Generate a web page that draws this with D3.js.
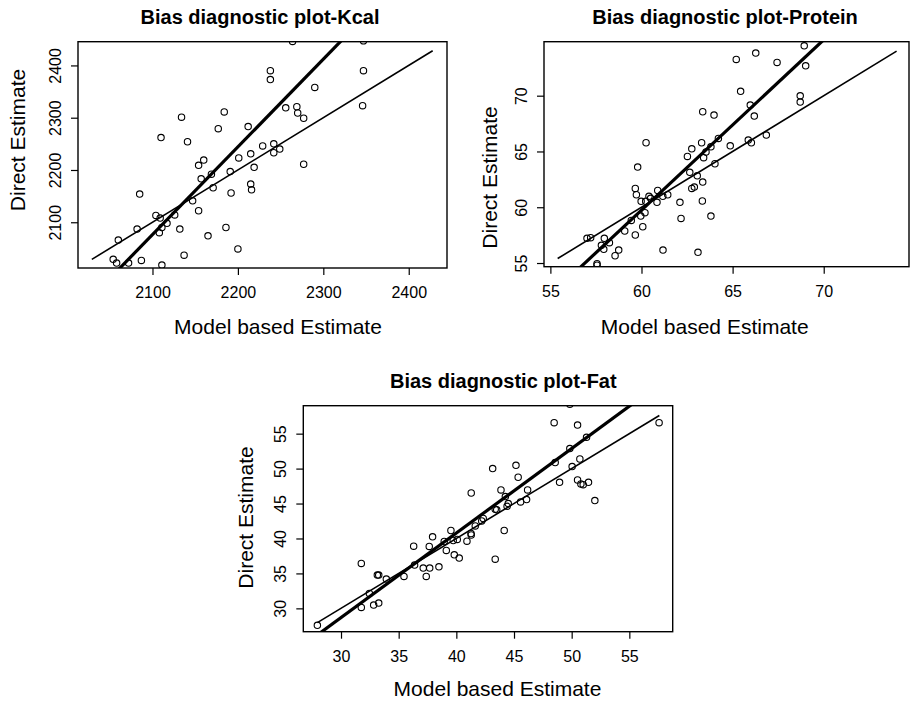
<!DOCTYPE html>
<html>
<head>
<meta charset="utf-8">
<script src="https://cdn.jsdelivr.net/npm/d3@7"></script>
<style>
  html, body { margin: 0; padding: 0; background: #fff; }
  svg { display: block; font-family: "Liberation Sans", Arial, Helvetica, sans-serif; }
</style>
</head>
<body>
<svg id="chart" width="910" height="701"></svg>
<script>
// ---------------- DATA ----------------
const titles = ["Bias diagnostic plot-Kcal", "Bias diagnostic plot-Protein", "Bias diagnostic plot-Fat"];
const xAxisTitle = "Model based Estimate";
const yAxisTitle = "Direct Estimate";

const kcalModel  = [2264,2347,2238,2238,2347,2290,2346,2256,2269,2270,2277,2134,2184,2177,2212,2110,2141,2229,2242,2242,2249,2215,2201,2160,2154,2277,2219,2191,2169,2157,2171,2215,2216,2192,2085,2147,2126,2154,2104,2109,2117,2111,2108,2132,2082,2060,2186,2165,2200,2137,2054,2058,2072,2087,2111];
const kcalDirect = [2446,2447,2390,2373,2390,2358,2323,2319,2321,2309,2299,2301,2311,2279,2283,2262,2254,2246,2250,2233,2240,2231,2223,2219,2209,2211,2205,2197,2192,2183,2166,2173,2162,2156,2154,2141,2114,2122,2113,2108,2098,2090,2080,2087,2087,2066,2090,2074,2049,2037,2029,2022,2022,2027,2018];

const proteinModel  = [68.93,66.27,65.2,67.44,69.01,65.44,68.71,68.71,65.97,66.19,63.36,63.98,66.85,64.22,65.86,66.03,60.25,63.3,64.87,63.81,62.76,63.54,62.52,63.41,64.03,59.79,62.65,63.06,63.36,59.66,62.76,62.9,59.72,60.89,60.41,61.44,61.17,59.98,60.23,60.85,62.11,63.34,60.19,59.96,63.81,62.17,59.44,60.07,59.08,59.66,57.01,57.21,57.96,57.8,58.24,57.93,58.75,58.55,61.18,63.1,57.56,57.56,60.5];
const proteinDirect = [74.47,73.82,73.25,72.98,72.68,70.39,69.99,69.43,69.16,68.17,68.56,68.26,66.47,66.17,66.02,65.78,65.78,65.78,65.51,65.42,65.24,64.95,64.56,64.44,63.9,63.6,63.13,62.82,62.26,61.69,61.69,61.81,61.12,61.51,60.98,61.12,60.98,60.53,60.53,60.44,60.44,60.56,59.51,59.21,59.21,59.0,58.82,58.25,57.87,57.51,57.21,57.27,57.21,56.59,56.82,56.23,56.16,55.65,56.16,55.96,54.94,54.8,60.8];

const fatModel  = [49.84,48.48,50.51,57.58,51.29,49.84,48.57,50.71,50.04,43.15,45.17,45.36,48.95,50.51,50.8,51.0,51.46,43.87,41.29,46.18,44.25,44.5,44.4,45.57,46.09,52.01,43.37,43.5,42.33,42.2,41.64,40.92,41.27,41.29,44.15,39.53,39.73,40.08,38.95,39.13,39.82,40.25,37.94,37.65,36.3,43.37,36.38,37.13,37.69,38.49,37.39,35.46,31.76,33.15,33.27,33.93,32.46,31.76,32.83,33.27,27.95];
const fatDirect = [59.2,56.57,56.23,56.57,54.47,52.86,50.86,51.37,50.29,50.0,50.47,48.76,48.04,48.37,47.8,47.7,48.04,46.95,46.51,46.95,46.0,45.0,44.6,45.23,45.57,45.43,44.19,44.1,42.86,42.5,41.8,39.61,40.71,40.5,41.14,41.14,39.71,39.86,39.57,38.29,37.66,37.19,40.23,38.86,38.9,37.04,36.19,35.76,35.76,35.95,34.57,34.57,36.43,34.76,34.76,34.19,32.14,30.14,30.47,30.76,27.57];

// axis limits (x, y) and tick labels
const kcalXLim = [2012.8, 2444.8], kcalYLim = [2012.5, 2445.4];
const proteinXLim = [54.65, 74.68], proteinYLim = [54.67, 74.84];
const fatXLim = [26.73, 58.76], fatYLim = [26.66, 59.0];
const kcalTicks = [2100, 2200, 2300, 2400];
const proteinTicks = [55, 60, 65, 70];
const fatTicks = [30, 35, 40, 45, 50, 55];

// identity (y = x) line over the range of the model estimates
const kcalIdentity = [2029, 2428];
const proteinIdentity = [55.4, 74.0];
const fatIdentity = [27.95, 57.6];

// fitted regression line: [intercept, slope]
const kcalFit = [-1447.4, 1.678];
const proteinFit = [-31.88, 1.527];
const fatFit = [-7.62, 1.21];

// ---------------- LAYOUT ----------------
const panels = [
  { title: titles[0], xs: kcalModel, ys: kcalDirect, xLim: kcalXLim, yLim: kcalYLim, ticks: kcalTicks,
    ident: kcalIdentity, fit: kcalFit,
    box: [78, 447, 41.7, 268], titleX: 260, titleY: 24, xtX: 278, xtY: 334.3, ytX: 25, ytY: 140 },
  { title: titles[1], xs: proteinModel, ys: proteinDirect, xLim: proteinXLim, yLim: proteinYLim, ticks: proteinTicks,
    ident: proteinIdentity, fit: proteinFit,
    box: [544, 909, 41.7, 266.7], titleX: 725, titleY: 24, xtX: 704.7, xtY: 334.3, ytX: 496.7, ytY: 177.5 },
  { title: titles[2], xs: fatModel, ys: fatDirect, xLim: fatXLim, yLim: fatYLim, ticks: fatTicks,
    ident: fatIdentity, fit: fatFit,
    box: [303.3, 672.7, 405.7, 631.7], titleX: 503.3, titleY: 388.3, xtX: 497.5, xtY: 696, ytX: 253.3, ytY: 517.5 }
];

const svg = d3.select("#chart");
const defs = svg.append("defs");

panels.forEach((p, i) => {
  const [L, R, T, B] = p.box;
  const x = d3.scaleLinear().domain(p.xLim).range([L, R]);
  const y = d3.scaleLinear().domain(p.yLim).range([B, T]);

  const clipId = "clip" + i;
  defs.append("clipPath").attr("id", clipId)
    .append("rect").attr("x", L).attr("y", T).attr("width", R - L).attr("height", B - T);

  const g = svg.append("g");

  // x axis
  const xa = g.append("g").attr("transform", `translate(0,${B})`)
    .call(d3.axisBottom(x).tickValues(p.ticks).tickSize(7).tickPadding(12).tickFormat(d3.format("d")));
  xa.select(".domain").remove();
  xa.selectAll("line").attr("stroke", "#000").attr("stroke-width", 1.2);
  xa.selectAll("text").attr("font-size", 16).attr("fill", "#000")
    .attr("font-family", "Liberation Sans, Arial, sans-serif");

  // y axis (labels rotated, R style)
  const ya = g.append("g").attr("transform", `translate(${L},0)`)
    .call(d3.axisLeft(y).tickValues(p.ticks).tickSize(7).tickFormat(d3.format("d")));
  ya.select(".domain").remove();
  ya.selectAll("line").attr("stroke", "#000").attr("stroke-width", 1.2);
  ya.selectAll("text")
    .attr("x", null).attr("dy", null)
    .attr("transform", "translate(-17,0) rotate(-90)")
    .attr("text-anchor", "middle")
    .attr("font-size", 16).attr("fill", "#000")
    .attr("font-family", "Liberation Sans, Arial, sans-serif");

  // plot contents (clipped)
  const pc = g.append("g").attr("clip-path", `url(#${clipId})`);

  pc.selectAll("circle").data(d3.range(p.xs.length)).join("circle")
    .attr("cx", j => x(p.xs[j])).attr("cy", j => y(p.ys[j]))
    .attr("r", 3.2).attr("fill", "none").attr("stroke", "#000").attr("stroke-width", 1.1);

  const line = d3.line().x(d => x(d[0])).y(d => y(d[1]));
  // identity line (thin)
  pc.append("path").datum(p.ident.map(v => [v, v]))
    .attr("d", line).attr("fill", "none").attr("stroke", "#000").attr("stroke-width", 1.6);
  // regression line (thick)
  pc.append("path").datum(p.xLim.map(v => [v, p.fit[0] + p.fit[1] * v]))
    .attr("d", line).attr("fill", "none").attr("stroke", "#000").attr("stroke-width", 3.2);

  // box
  g.append("rect").attr("x", L).attr("y", T).attr("width", R - L).attr("height", B - T)
    .attr("fill", "none").attr("stroke", "#000").attr("stroke-width", 1.4);

  // titles
  g.append("text").attr("x", p.titleX).attr("y", p.titleY).attr("text-anchor", "middle")
    .attr("font-size", 20).attr("font-weight", "bold").attr("fill", "#000").text(p.title);
  g.append("text").attr("x", p.xtX).attr("y", p.xtY).attr("text-anchor", "middle")
    .attr("font-size", 21).attr("fill", "#000").text(xAxisTitle);
  g.append("text").attr("transform", `translate(${p.ytX},${p.ytY}) rotate(-90)`).attr("text-anchor", "middle")
    .attr("font-size", 21).attr("fill", "#000").text(yAxisTitle);
});
</script>
</body>
</html>
